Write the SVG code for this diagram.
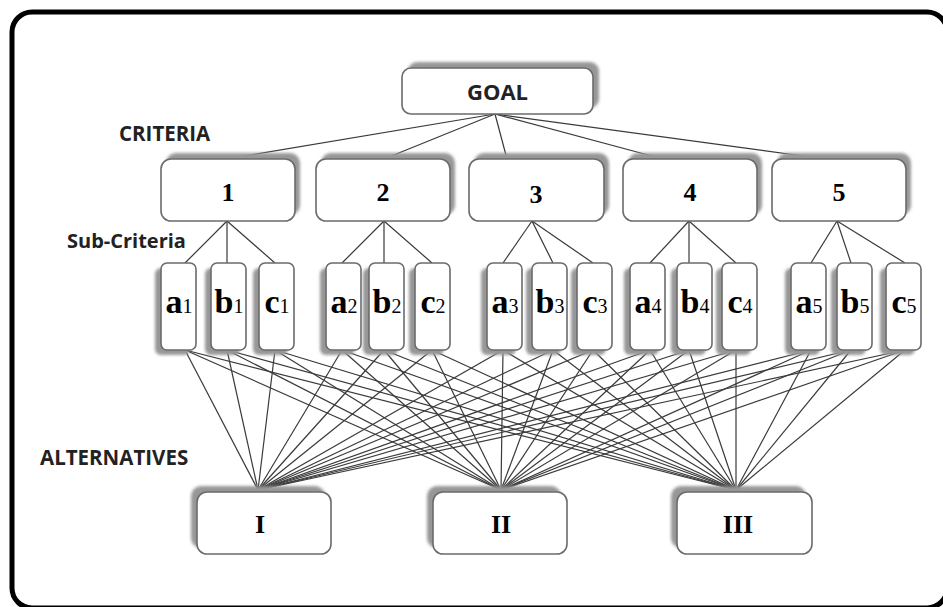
<svg xmlns="http://www.w3.org/2000/svg" width="943" height="607" viewBox="0 0 943 607">
  <defs>
    <filter id="soft" x="-20%" y="-20%" width="140%" height="140%">
      <feGaussianBlur stdDeviation="1.6"/>
    </filter>
  </defs>
  <style>
    .frame { fill: #ffffff; stroke: #000000; stroke-width: 5; }
    .box { fill: #ffffff; stroke: #6b6b6b; stroke-width: 1.6; }
    .shadow { fill: #979797; filter: url(#soft); }
    .conn line { stroke: #3a3a3a; stroke-width: 1.2; }
    .cap { font-family: "Open Sans", "Liberation Sans", sans-serif; font-weight: bold; fill: #222222; }
    .num { font-family: "Liberation Serif", "Times New Roman", serif; font-weight: bold; font-size: 26px; fill: #000000; text-anchor: middle; }
    .sub { font-family: "Liberation Serif", "Times New Roman", serif; font-weight: bold; font-size: 34px; fill: #000000; text-anchor: middle; }
    .sub tspan { font-weight: normal; font-size: 20px; }
  </style>

  <!-- outer frame -->
  <rect class="frame" x="12" y="12" width="935" height="596" rx="20" ry="20"/>

  <!-- level captions -->
  <text class="cap" x="119" y="141" font-size="20.5">CRITERIA</text>
  <text class="cap" x="67" y="248" font-size="20">Sub-Criteria</text>
  <text class="cap" x="40" y="465" font-size="20.5">ALTERNATIVES</text>

  <!-- connectors -->
  <g id="connectors" class="conn">
    <!-- goal to criteria -->
    <line x1="495" y1="114" x2="227" y2="159"/>
    <line x1="495" y1="114" x2="384" y2="159"/>
    <line x1="495" y1="114" x2="507" y2="159"/>
    <line x1="495" y1="114" x2="663" y2="159"/>
    <line x1="495" y1="114" x2="825" y2="159"/>
    <!-- criteria to sub-criteria -->
    <line x1="227" y1="221" x2="185" y2="263"/>
    <line x1="227" y1="221" x2="227" y2="263"/>
    <line x1="227" y1="221" x2="275" y2="263"/>
    <line x1="384" y1="221" x2="342" y2="263"/>
    <line x1="384" y1="221" x2="384" y2="263"/>
    <line x1="384" y1="221" x2="432" y2="263"/>
    <line x1="532" y1="221" x2="503" y2="263"/>
    <line x1="532" y1="221" x2="553" y2="263"/>
    <line x1="532" y1="221" x2="593" y2="263"/>
    <line x1="689" y1="221" x2="650" y2="263"/>
    <line x1="689" y1="221" x2="689" y2="263"/>
    <line x1="689" y1="221" x2="736" y2="263"/>
    <line x1="837" y1="221" x2="811" y2="263"/>
    <line x1="837" y1="221" x2="851" y2="263"/>
    <line x1="837" y1="221" x2="905" y2="263"/>
    <!-- sub-criteria to alternative I -->
    <line x1="185" y1="350" x2="258" y2="490"/>
    <line x1="227" y1="350" x2="258" y2="490"/>
    <line x1="275" y1="350" x2="258" y2="490"/>
    <line x1="342" y1="350" x2="258" y2="490"/>
    <line x1="384" y1="350" x2="258" y2="490"/>
    <line x1="432" y1="350" x2="258" y2="490"/>
    <line x1="503" y1="350" x2="258" y2="490"/>
    <line x1="553" y1="350" x2="258" y2="490"/>
    <line x1="593" y1="350" x2="258" y2="490"/>
    <line x1="650" y1="350" x2="258" y2="490"/>
    <line x1="689" y1="350" x2="258" y2="490"/>
    <line x1="736" y1="350" x2="258" y2="490"/>
    <line x1="811" y1="350" x2="258" y2="490"/>
    <line x1="851" y1="350" x2="258" y2="490"/>
    <line x1="905" y1="350" x2="258" y2="490"/>
    <!-- sub-criteria to alternative II -->
    <line x1="185" y1="350" x2="501" y2="490"/>
    <line x1="227" y1="350" x2="501" y2="490"/>
    <line x1="275" y1="350" x2="501" y2="490"/>
    <line x1="342" y1="350" x2="501" y2="490"/>
    <line x1="384" y1="350" x2="501" y2="490"/>
    <line x1="432" y1="350" x2="501" y2="490"/>
    <line x1="503" y1="350" x2="501" y2="490"/>
    <line x1="553" y1="350" x2="501" y2="490"/>
    <line x1="593" y1="350" x2="501" y2="490"/>
    <line x1="650" y1="350" x2="501" y2="490"/>
    <line x1="689" y1="350" x2="501" y2="490"/>
    <line x1="736" y1="350" x2="501" y2="490"/>
    <line x1="811" y1="350" x2="501" y2="490"/>
    <line x1="851" y1="350" x2="501" y2="490"/>
    <line x1="905" y1="350" x2="501" y2="490"/>
    <!-- sub-criteria to alternative III -->
    <line x1="185" y1="350" x2="736" y2="490"/>
    <line x1="227" y1="350" x2="736" y2="490"/>
    <line x1="275" y1="350" x2="736" y2="490"/>
    <line x1="342" y1="350" x2="736" y2="490"/>
    <line x1="384" y1="350" x2="736" y2="490"/>
    <line x1="432" y1="350" x2="736" y2="490"/>
    <line x1="503" y1="350" x2="736" y2="490"/>
    <line x1="553" y1="350" x2="736" y2="490"/>
    <line x1="593" y1="350" x2="736" y2="490"/>
    <line x1="650" y1="350" x2="736" y2="490"/>
    <line x1="689" y1="350" x2="736" y2="490"/>
    <line x1="736" y1="350" x2="736" y2="490"/>
    <line x1="811" y1="350" x2="736" y2="490"/>
    <line x1="851" y1="350" x2="736" y2="490"/>
    <line x1="905" y1="350" x2="736" y2="490"/>
  </g>

  <!-- goal -->
  <g id="goal">
    <rect class="shadow" x="408" y="62" width="191" height="46" rx="9"/>
    <rect class="box" x="402" y="68" width="191" height="46" rx="9"/>
    <text class="cap" x="497.5" y="100" font-size="22" text-anchor="middle">GOAL</text>
  </g>

  <!-- criteria -->
  <g id="criterion-1">
    <rect class="shadow" x="166" y="153" width="134" height="62" rx="10"/>
    <rect class="box" x="161" y="159" width="134" height="62" rx="10"/>
    <text class="num" x="228" y="201">1</text>
  </g>
  <g id="criterion-2">
    <rect class="shadow" x="321" y="153" width="134" height="62" rx="10"/>
    <rect class="box" x="316" y="159" width="134" height="62" rx="10"/>
    <text class="num" x="383" y="201">2</text>
  </g>
  <g id="criterion-3">
    <rect class="shadow" x="474" y="153" width="135" height="62" rx="10"/>
    <rect class="box" x="469" y="159" width="135" height="62" rx="10"/>
    <text class="num" x="536" y="203">3</text>
  </g>
  <g id="criterion-4">
    <rect class="shadow" x="628" y="153" width="134" height="62" rx="10"/>
    <rect class="box" x="623" y="159" width="134" height="62" rx="10"/>
    <text class="num" x="690" y="201">4</text>
  </g>
  <g id="criterion-5">
    <rect class="shadow" x="777" y="153" width="134" height="62" rx="10"/>
    <rect class="box" x="772" y="159" width="134" height="62" rx="10"/>
    <text class="num" x="839" y="201">5</text>
  </g>

  <!-- sub-criteria -->
  <g id="sub-a1">
    <rect class="shadow" x="155" y="268" width="35" height="87" rx="6"/>
    <rect class="box" x="161" y="263" width="35" height="87" rx="6"/>
    <text class="sub" x="179" y="313">a<tspan>1</tspan></text>
  </g>
  <g id="sub-b1">
    <rect class="shadow" x="205" y="268" width="35" height="87" rx="6"/>
    <rect class="box" x="211" y="263" width="35" height="87" rx="6"/>
    <text class="sub" x="229" y="313">b<tspan>1</tspan></text>
  </g>
  <g id="sub-c1">
    <rect class="shadow" x="253" y="268" width="35" height="87" rx="6"/>
    <rect class="box" x="259" y="263" width="35" height="87" rx="6"/>
    <text class="sub" x="277" y="313">c<tspan>1</tspan></text>
  </g>
  <g id="sub-a2">
    <rect class="shadow" x="320" y="268" width="35" height="87" rx="6"/>
    <rect class="box" x="326" y="263" width="35" height="87" rx="6"/>
    <text class="sub" x="344" y="313">a<tspan>2</tspan></text>
  </g>
  <g id="sub-b2">
    <rect class="shadow" x="363" y="268" width="35" height="87" rx="6"/>
    <rect class="box" x="369" y="263" width="35" height="87" rx="6"/>
    <text class="sub" x="387" y="313">b<tspan>2</tspan></text>
  </g>
  <g id="sub-c2">
    <rect class="shadow" x="409" y="268" width="35" height="87" rx="6"/>
    <rect class="box" x="415" y="263" width="35" height="87" rx="6"/>
    <text class="sub" x="433" y="313">c<tspan>2</tspan></text>
  </g>
  <g id="sub-a3">
    <rect class="shadow" x="481" y="268" width="35" height="87" rx="6"/>
    <rect class="box" x="487" y="263" width="35" height="87" rx="6"/>
    <text class="sub" x="505" y="313">a<tspan>3</tspan></text>
  </g>
  <g id="sub-b3">
    <rect class="shadow" x="526" y="268" width="35" height="87" rx="6"/>
    <rect class="box" x="532" y="263" width="35" height="87" rx="6"/>
    <text class="sub" x="550" y="313">b<tspan>3</tspan></text>
  </g>
  <g id="sub-c3">
    <rect class="shadow" x="571" y="268" width="35" height="87" rx="6"/>
    <rect class="box" x="577" y="263" width="35" height="87" rx="6"/>
    <text class="sub" x="595" y="313">c<tspan>3</tspan></text>
  </g>
  <g id="sub-a4">
    <rect class="shadow" x="624" y="268" width="35" height="87" rx="6"/>
    <rect class="box" x="630" y="263" width="35" height="87" rx="6"/>
    <text class="sub" x="648" y="313">a<tspan>4</tspan></text>
  </g>
  <g id="sub-b4">
    <rect class="shadow" x="671" y="268" width="35" height="87" rx="6"/>
    <rect class="box" x="677" y="263" width="35" height="87" rx="6"/>
    <text class="sub" x="695" y="313">b<tspan>4</tspan></text>
  </g>
  <g id="sub-c4">
    <rect class="shadow" x="716" y="268" width="35" height="87" rx="6"/>
    <rect class="box" x="722" y="263" width="35" height="87" rx="6"/>
    <text class="sub" x="740" y="313">c<tspan>4</tspan></text>
  </g>
  <g id="sub-a5">
    <rect class="shadow" x="785" y="268" width="35" height="87" rx="6"/>
    <rect class="box" x="791" y="263" width="35" height="87" rx="6"/>
    <text class="sub" x="809" y="313">a<tspan>5</tspan></text>
  </g>
  <g id="sub-b5">
    <rect class="shadow" x="831" y="268" width="35" height="87" rx="6"/>
    <rect class="box" x="837" y="263" width="35" height="87" rx="6"/>
    <text class="sub" x="855" y="313">b<tspan>5</tspan></text>
  </g>
  <g id="sub-c5">
    <rect class="shadow" x="880" y="268" width="35" height="87" rx="6"/>
    <rect class="box" x="886" y="263" width="35" height="87" rx="6"/>
    <text class="sub" x="904" y="313">c<tspan>5</tspan></text>
  </g>

  <!-- alternatives -->
  <g id="alt-I">
    <rect class="shadow" x="191" y="486" width="134" height="62" rx="10"/>
    <rect class="box" x="197" y="492" width="134" height="62" rx="10"/>
    <text class="num" x="260" y="533">I</text>
  </g>
  <g id="alt-II">
    <rect class="shadow" x="427" y="486" width="134" height="62" rx="10"/>
    <rect class="box" x="433" y="492" width="134" height="62" rx="10"/>
    <text class="num" x="501" y="533">II</text>
  </g>
  <g id="alt-III">
    <rect class="shadow" x="671" y="486" width="135" height="62" rx="10"/>
    <rect class="box" x="677" y="492" width="135" height="62" rx="10"/>
    <text class="num" x="738" y="533">III</text>
  </g>
</svg>
